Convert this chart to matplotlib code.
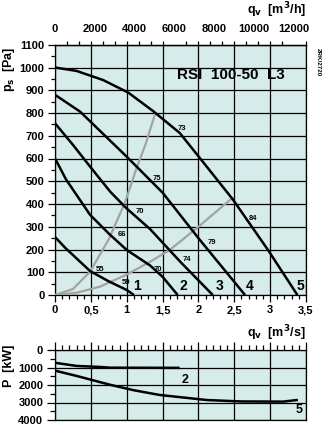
import numpy as np
import matplotlib
matplotlib.use("Agg")
import matplotlib.pyplot as plt
from matplotlib.ticker import FixedLocator

plt.rcParams['font.family'] = ['Liberation Sans', 'DejaVu Sans']
plt.rcParams['font.weight'] = 'bold'

# ---------------- data ----------------
# fan curves: static pressure Ps [Pa] vs flow qv [m3/s]
c1_q = [0, 0.15, 0.30, 0.49, 0.75, 1.0, 1.1]
c1_p = [255, 205, 161, 105, 60, 22, 0]
c2_q = [0, 0.15, 0.30, 0.49, 0.75, 1.0, 1.325, 1.5, 1.71]
c2_p = [601, 510, 440, 352, 270, 198, 130, 80, 0]
c3_q = [0, 0.25, 0.49, 0.77, 1.0, 1.325, 1.75, 2.2]
c3_p = [755, 660, 564, 454, 380, 290, 145, 0]
c4_q = [0, 0.35, 1.0, 1.5, 2.02, 2.65]
c4_p = [880, 806, 608, 450, 242, 0]
c5_q = [0, 0.3, 0.67, 1.02, 1.37, 1.74, 2.02, 2.48, 2.97, 3.38]
c5_p = [1000, 985, 945, 890, 808, 712, 602, 420, 198, 0]
curve_names = ["1", "2", "3", "4", "5"]
curve_name_q = [1.15, 1.79, 2.29, 2.71, 3.42]

# grey system lines
g1_q = [0, 0.25, 0.49, 0.75, 0.98, 1.14, 1.26, 1.40]
g1_p = [0, 26, 103, 245, 410, 560, 660, 800]
g2_q = [0, 0.3, 0.63, 1.0, 1.325, 1.6, 2.0, 2.44, 2.48]
g2_p = [0, 10, 37, 90, 146, 198, 300, 418, 425]

# efficiency labels
eff_text = ["73", "75", "70", "66", "55", "59", "70", "74", "79", "84"]
eff_q = [1.77, 1.42, 1.19, 0.93, 0.63, 0.99, 1.44, 1.84, 2.19, 2.76]
eff_p = [734, 514, 365, 264, 114, 53, 114, 154, 229, 338]

# shaft power P [kW] (as labelled) vs qv
pw2_q = [0, 0.30, 0.63, 0.77, 1.72]
pw2_p = [730, 910, 970, 1010, 1020]
pw5_q = [0, 0.30, 0.77, 1.10, 1.46, 2.12, 2.60, 3.18, 3.37]
pw5_p = [1180, 1480, 1990, 2300, 2570, 2860, 2940, 2950, 2860]
pw_names = ["2", "5"]
pw_name_q = [1.81, 3.40]
pw_name_p = [1714, 3430]

x_ticks = [0, 0.5, 1, 1.5, 2, 2.5, 3, 3.5]
x_ticklabels = ["0", "0,5", "1", "1,5", "2", "2,5", "3", "3,5"]
top_ticks = [0, 2000, 4000, 6000, 8000, 10000, 12000]
ps_ticks = list(range(0, 1101, 100))
pw_ticks = [0, 1000, 2000, 3000, 4000]

title = "RSI  100-50  L3"

# ---------------- drawing ----------------
bg = '#d6ecea'
W, H = 324, 425
fig = plt.figure(figsize=(W / 100, H / 100), dpi=100)


def px_axes(l, t, r, b):
    return fig.add_axes([l / W, 1 - b / H, (r - l) / W, (b - t) / H])


lw_grid = 0.9
lw_curve = 1.8
tick_fs = 8

ax = px_axes(55, 44.75, 306, 295)
ax.set_facecolor(bg)
ax.set_xlim(0, 3.5)
ax.set_ylim(0, 1100)
ax.set_xticks(x_ticks)
ax.set_xticklabels(x_ticklabels)
ax.set_xticks(np.arange(0, 3.501, 0.1), minor=True)
ax.set_yticks(ps_ticks)
ax.set_yticks(np.arange(0, 1101, 50), minor=True)
ax.grid(which='major', color='black', lw=lw_grid)
ax.tick_params(which='major', direction='out', length=5, width=lw_grid,
               labelsize=tick_fs, pad=2.5)
ax.tick_params(which='minor', direction='out', length=3, width=lw_grid)
for s in ax.spines.values():
    s.set_linewidth(lw_grid)
ax.set_axisbelow(True)

for q, p in [(g1_q, g1_p), (g2_q, g2_p)]:
    ax.plot(q, p, color='#a3a3a3', lw=1.6, zorder=3)
curves = [(c1_q, c1_p), (c2_q, c2_p), (c3_q, c3_p), (c4_q, c4_p), (c5_q, c5_p)]
for (q, p) in curves:
    ax.plot(q, p, color='black', lw=lw_curve, zorder=4, solid_capstyle='butt')
for name, q in zip(curve_names, curve_name_q):
    ax.text(q, 10, name, fontsize=10, fontweight='bold', ha='center', va='bottom', zorder=5)
for t, q, p in zip(eff_text, eff_q, eff_p):
    ax.text(q, p, t, fontsize=5.5, fontweight='bold', ha='center', va='center', zorder=5)

ax.text(0.70, 0.879, title, transform=ax.transAxes, fontsize=11,
        fontweight='bold', ha='center', va='center')

# top axis in m3/h
sec = ax.secondary_xaxis('top', functions=(lambda q: q * 3600, lambda h: h / 3600))
sec.xaxis.set_major_locator(FixedLocator(top_ticks))
sec.set_xticklabels([str(t) for t in top_ticks])
sec.xaxis.set_minor_locator(FixedLocator(np.arange(0, 12601, 600)))
sec.tick_params(which='major', length=0, labelsize=tick_fs, pad=8)
sec.tick_params(which='minor', length=3, width=lw_grid, direction='out')
sec.spines['top'].set_linewidth(lw_grid)

fig.text(306 / W, 1 - 10 / H, r"q$_\mathbf{v}$  [m$^\mathbf{3}$/h]", fontsize=9,
         fontweight='bold', ha='right', va='center')
fig.text(9 / W, 1 - 47 / H, r"p$_\mathbf{s}$  [Pa]", fontsize=9, fontweight='bold',
         rotation=90, ha='center', va='top')
fig.text(318 / W, 1 - 62 / H, "2RK/2720", fontsize=4.5, fontweight='bold',
         rotation=270, ha='center', va='center')

# power axes
ax2 = px_axes(55, 350, 306, 420)
ax2.set_facecolor(bg)
ax2.set_xlim(0, 3.5)
ax2.set_ylim(4000, 0)
ax2.set_xticks(x_ticks)
ax2.set_xticks(np.arange(0, 3.501, 0.1), minor=True)
ax2.set_yticks(pw_ticks)
ax2.set_yticks(np.arange(0, 4001, 500), minor=True)
ax2.grid(which='major', color='black', lw=lw_grid)
ax2.tick_params(axis='x', which='both', top=True, bottom=False, labeltop=False,
                labelbottom=False, direction='out')
ax2.tick_params(which='major', length=6, width=lw_grid, labelsize=tick_fs, pad=2.5)
ax2.tick_params(which='minor', length=3.5, width=lw_grid)
for s in ax2.spines.values():
    s.set_linewidth(lw_grid)
ax2.set_axisbelow(True)
ax2.plot(pw2_q, pw2_p, color='black', lw=lw_curve, zorder=4)
ax2.plot(pw5_q, pw5_p, color='black', lw=lw_curve, zorder=4)
for n, q, p in zip(pw_names, pw_name_q, pw_name_p):
    ax2.text(q, p, n, fontsize=9, fontweight='bold', ha='center', va='center')

fig.text(306 / W, 1 - 333 / H, r"q$_\mathbf{v}$  [m$^\mathbf{3}$/s]", fontsize=9,
         fontweight='bold', ha='right', va='center')
fig.text(9 / W, 1 - 345 / H, "P  [kW]", fontsize=9, fontweight='bold',
         rotation=90, ha='center', va='top')

fig.savefig("out.png", dpi=100, facecolor='white')
